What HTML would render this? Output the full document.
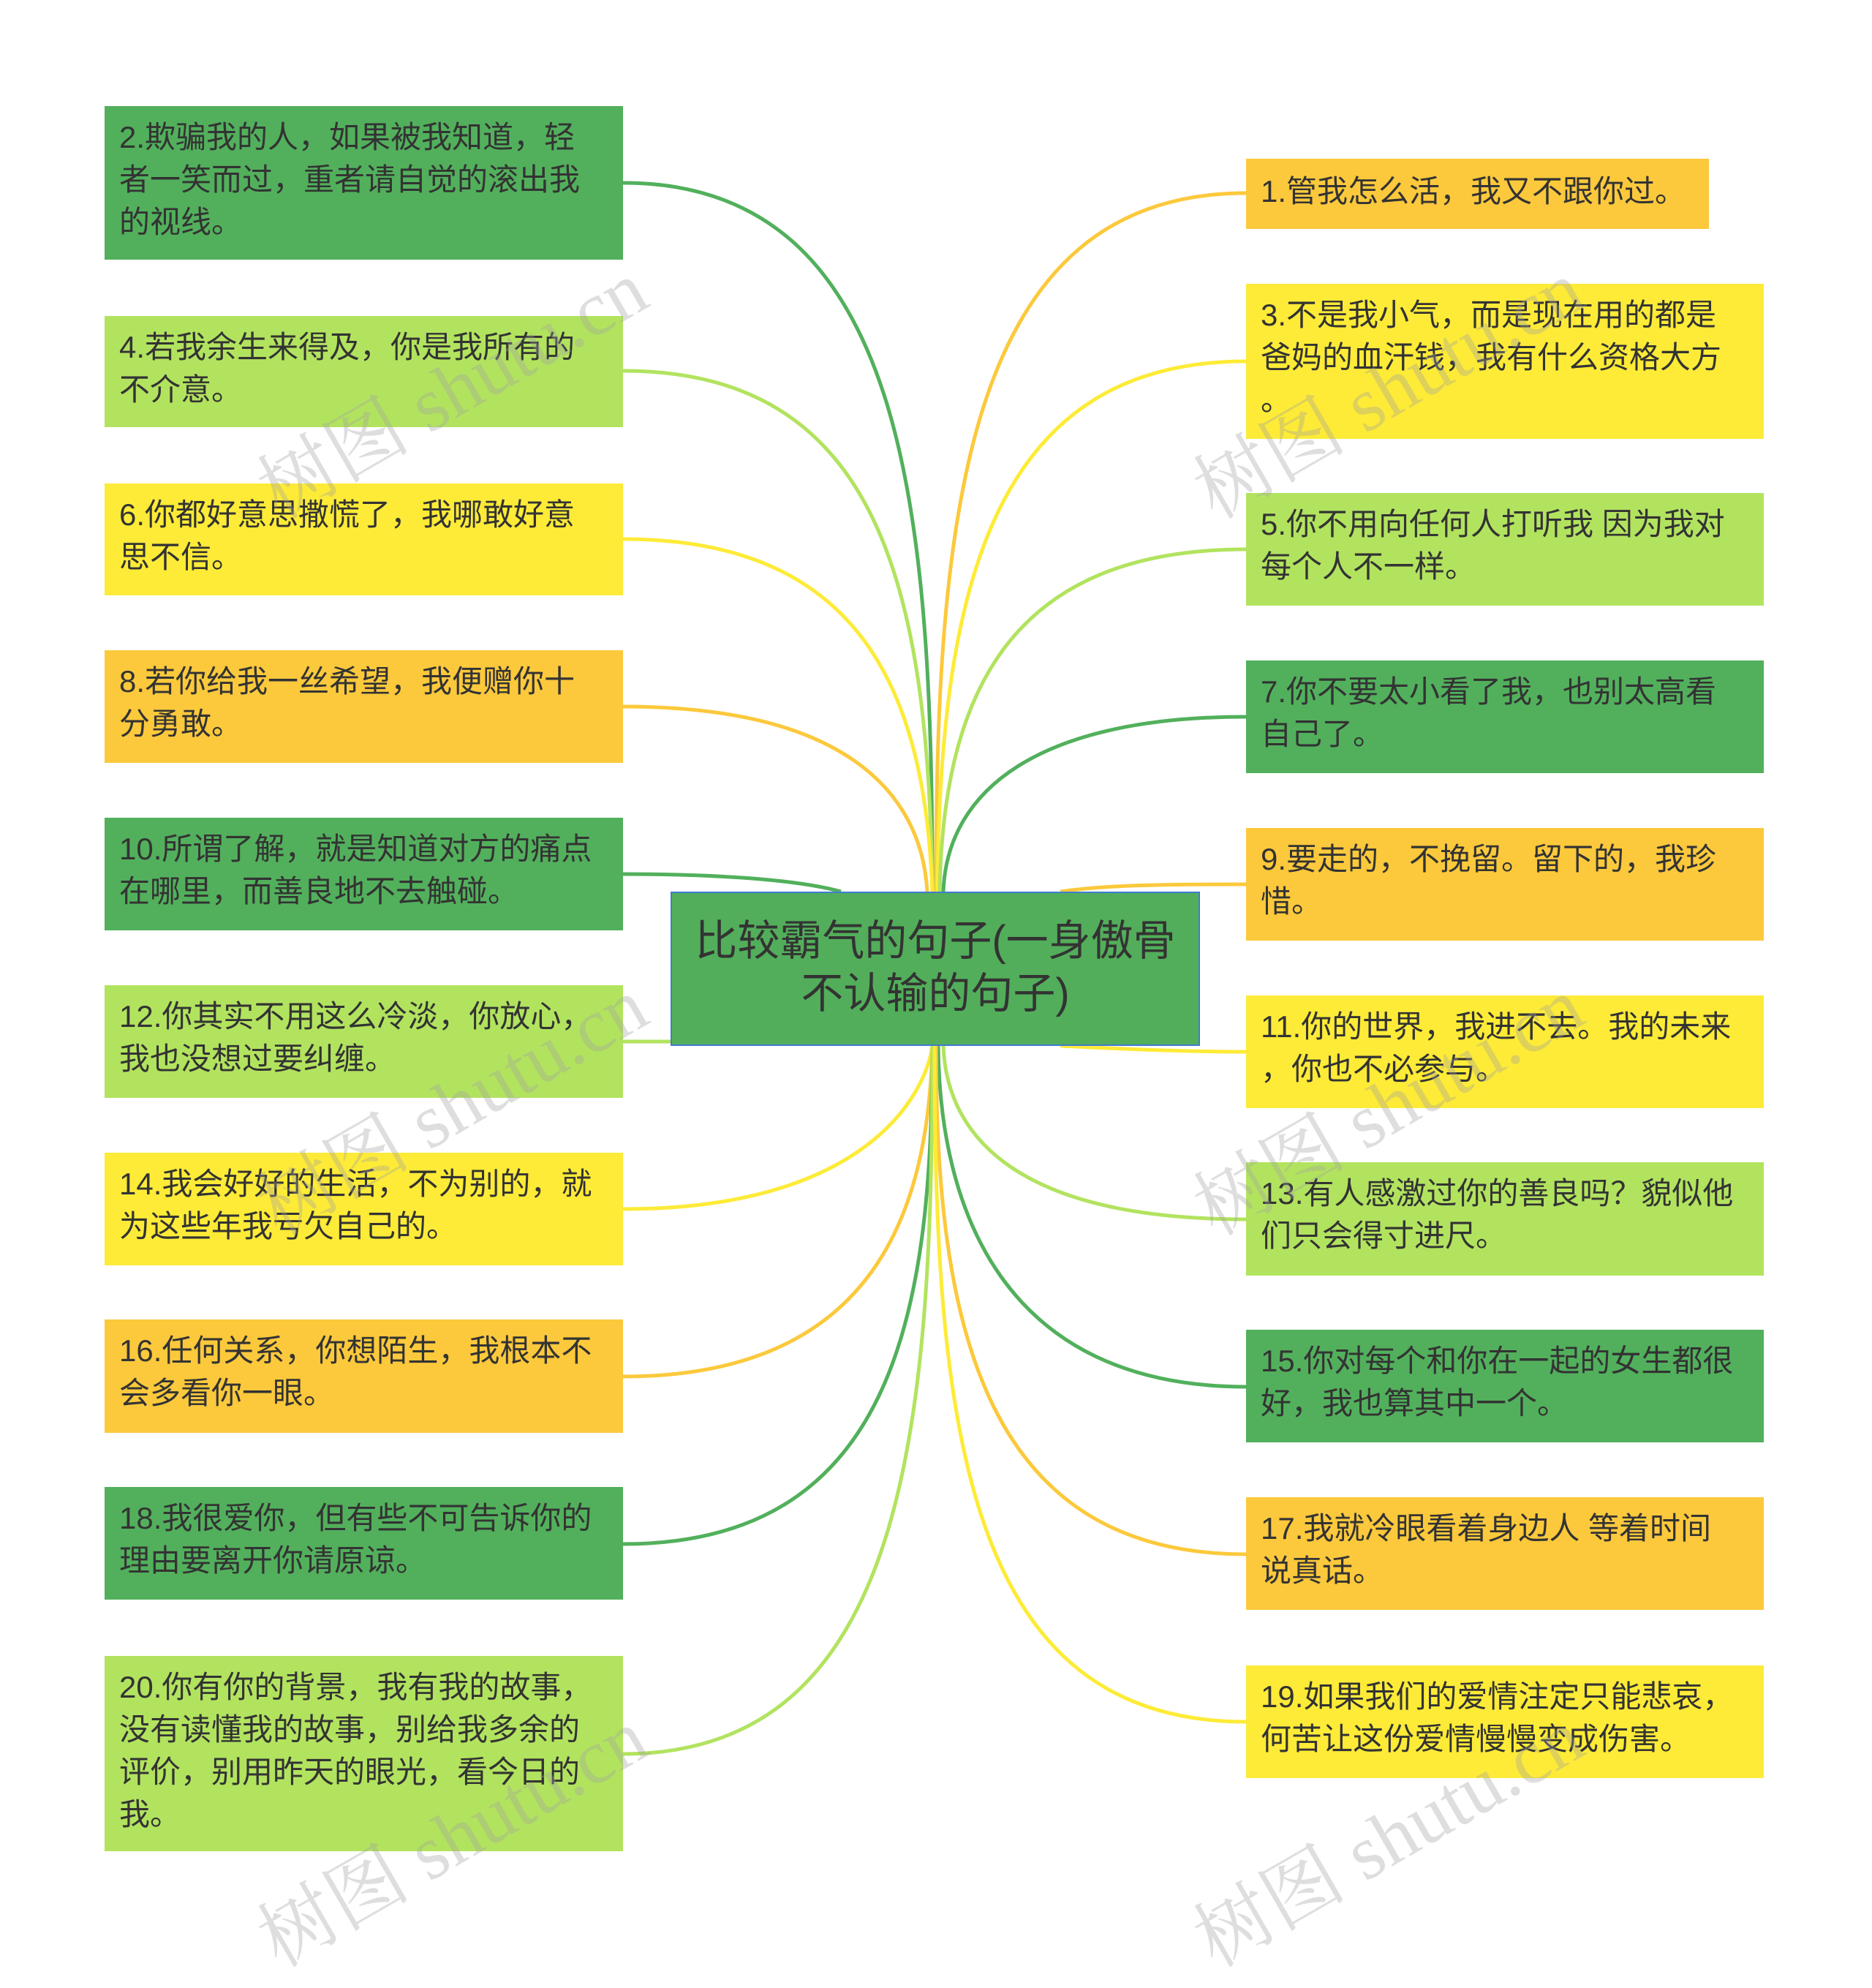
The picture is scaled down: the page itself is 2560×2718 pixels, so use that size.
<!DOCTYPE html>
<html><head><meta charset="utf-8"><style>
html,body{margin:0;padding:0;background:#fff}
body{width:2560px;height:2679px;position:relative;overflow:hidden;font-family:"Liberation Sans","Noto Sans CJK SC",sans-serif}
.n{position:absolute;box-sizing:border-box;padding:14px 36px 0 20px;font-size:42px;line-height:58px;color:#333;}
.dg{background:#52b05c}.lg{background:#b2e35f}.ye{background:#fdeb37}.or{background:#fcc93c}
.c{position:absolute;left:917px;top:1219px;width:724px;height:211px;background:#52ae5a;border:2px solid #3f7bd6;box-sizing:border-box;color:#333;font-size:58px;line-height:72px;text-align:center;padding-top:30px}
.w{position:absolute;font-family:"Liberation Serif","Noto Serif CJK SC",serif;font-size:105px;color:rgba(160,160,160,0.35);transform:rotate(-30deg);white-space:nowrap}
svg{position:absolute;left:0;top:0}
</style></head><body>
<svg width="2560" height="2679" fill="none" stroke-width="5">
<path d="M852 250 C1240 250 1275 700 1275 1219" stroke="#52b05c"/>
<path d="M852 507 C1200 507 1270 800 1275 1219" stroke="#b2e35f"/>
<path d="M852 737 C1180 737 1265 950 1275 1219" stroke="#fdeb37"/>
<path d="M852 966 C1150 966 1260 1080 1268 1219" stroke="#fcc93c"/>
<path d="M852 1195 C1000 1195 1100 1205 1150 1219" stroke="#52b05c"/>
<path d="M852 1424 L917 1424" stroke="#b2e35f"/>
<path d="M852 1653 C1180 1653 1265 1500 1275 1430" stroke="#fdeb37"/>
<path d="M852 1882 C1200 1882 1270 1650 1275 1430" stroke="#fcc93c"/>
<path d="M852 2111 C1220 2111 1275 1800 1275 1430" stroke="#52b05c"/>
<path d="M852 2398 C1240 2398 1275 1950 1275 1430" stroke="#b2e35f"/>
<path d="M1704 264 C1320 264 1280 700 1280 1219" stroke="#fcc93c"/>
<path d="M1704 494 C1360 494 1285 800 1282 1219" stroke="#fdeb37"/>
<path d="M1704 751 C1380 751 1290 950 1285 1219" stroke="#b2e35f"/>
<path d="M1704 980 C1420 980 1295 1080 1290 1219" stroke="#52b05c"/>
<path d="M1704 1209 C1550 1209 1500 1212 1450 1219" stroke="#fcc93c"/>
<path d="M1704 1438 C1600 1438 1500 1432 1450 1430" stroke="#fdeb37"/>
<path d="M1704 1667 C1400 1667 1295 1560 1290 1430" stroke="#b2e35f"/>
<path d="M1704 1896 C1370 1896 1285 1650 1283 1430" stroke="#52b05c"/>
<path d="M1704 2125 C1340 2125 1280 1800 1280 1430" stroke="#fcc93c"/>
<path d="M1704 2354 C1320 2354 1278 1950 1278 1430" stroke="#fdeb37"/>
</svg>
<div class="n dg" style="left:143px;top:145px;width:709px;height:210px">2.欺骗我的人，如果被我知道，轻者一笑而过，重者请自觉的滚出我的视线。</div>
<div class="n lg" style="left:143px;top:432px;width:709px;height:152px">4.若我余生来得及，你是我所有的不介意。</div>
<div class="n ye" style="left:143px;top:661px;width:709px;height:153px">6.你都好意思撒慌了，我哪敢好意思不信。</div>
<div class="n or" style="left:143px;top:889px;width:709px;height:154px">8.若你给我一丝希望，我便赠你十分勇敢。</div>
<div class="n dg" style="left:143px;top:1118px;width:709px;height:154px">10.所谓了解，就是知道对方的痛点在哪里，而善良地不去触碰。</div>
<div class="n lg" style="left:143px;top:1347px;width:709px;height:154px">12.你其实不用这么冷淡，你放心，我也没想过要纠缠。</div>
<div class="n ye" style="left:143px;top:1576px;width:709px;height:154px">14.我会好好的生活，不为别的，就为这些年我亏欠自己的。</div>
<div class="n or" style="left:143px;top:1804px;width:709px;height:155px">16.任何关系，你想陌生，我根本不会多看你一眼。</div>
<div class="n dg" style="left:143px;top:2033px;width:709px;height:154px">18.我很爱你，但有些不可告诉你的理由要离开你请原谅。</div>
<div class="n lg" style="left:143px;top:2264px;width:709px;height:267px">20.你有你的背景，我有我的故事，没有读懂我的故事，别给我多余的评价，别用昨天的眼光，看今日的我。</div>
<div class="n or" style="left:1704px;top:217px;width:633px;height:96px;white-space:nowrap;padding-top:16px">1.管我怎么活，我又不跟你过。</div>
<div class="n ye" style="left:1704px;top:388px;width:708px;height:212px">3.不是我小气，而是现在用的都是爸妈的血汗钱，我有什么资格大方<br>。</div>
<div class="n lg" style="left:1704px;top:674px;width:708px;height:154px">5.你不用向任何人打听我 因为我对每个人不一样。</div>
<div class="n dg" style="left:1704px;top:903px;width:708px;height:154px">7.你不要太小看了我，也别太高看自己了。</div>
<div class="n or" style="left:1704px;top:1132px;width:708px;height:154px">9.要走的，不挽留。留下的，我珍惜。</div>
<div class="n ye" style="left:1704px;top:1361px;width:708px;height:154px">11.你的世界，我进不去。我的未来<br>，你也不必参与。</div>
<div class="n lg" style="left:1704px;top:1589px;width:708px;height:155px">13.有人感激过你的善良吗？貌似他们只会得寸进尺。</div>
<div class="n dg" style="left:1704px;top:1818px;width:708px;height:154px">15.你对每个和你在一起的女生都很好，我也算其中一个。</div>
<div class="n or" style="left:1704px;top:2047px;width:708px;height:154px">17.我就冷眼看着身边人 等着时间说真话。</div>
<div class="n ye" style="left:1704px;top:2277px;width:708px;height:154px">19.如果我们的爱情注定只能悲哀，何苦让这份爱情慢慢变成伤害。</div>
<div class="c">比较霸气的句子(一身傲骨<br>不认输的句子)</div>
<div class="w" style="left:320px;top:450px">树图 shutu.cn</div>
<div class="w" style="left:1600px;top:450px">树图 shutu.cn</div>
<div class="w" style="left:320px;top:1430px">树图 shutu.cn</div>
<div class="w" style="left:1600px;top:1430px">树图 shutu.cn</div>
<div class="w" style="left:320px;top:2430px">树图 shutu.cn</div>
<div class="w" style="left:1600px;top:2430px">树图 shutu.cn</div>
</body></html>
